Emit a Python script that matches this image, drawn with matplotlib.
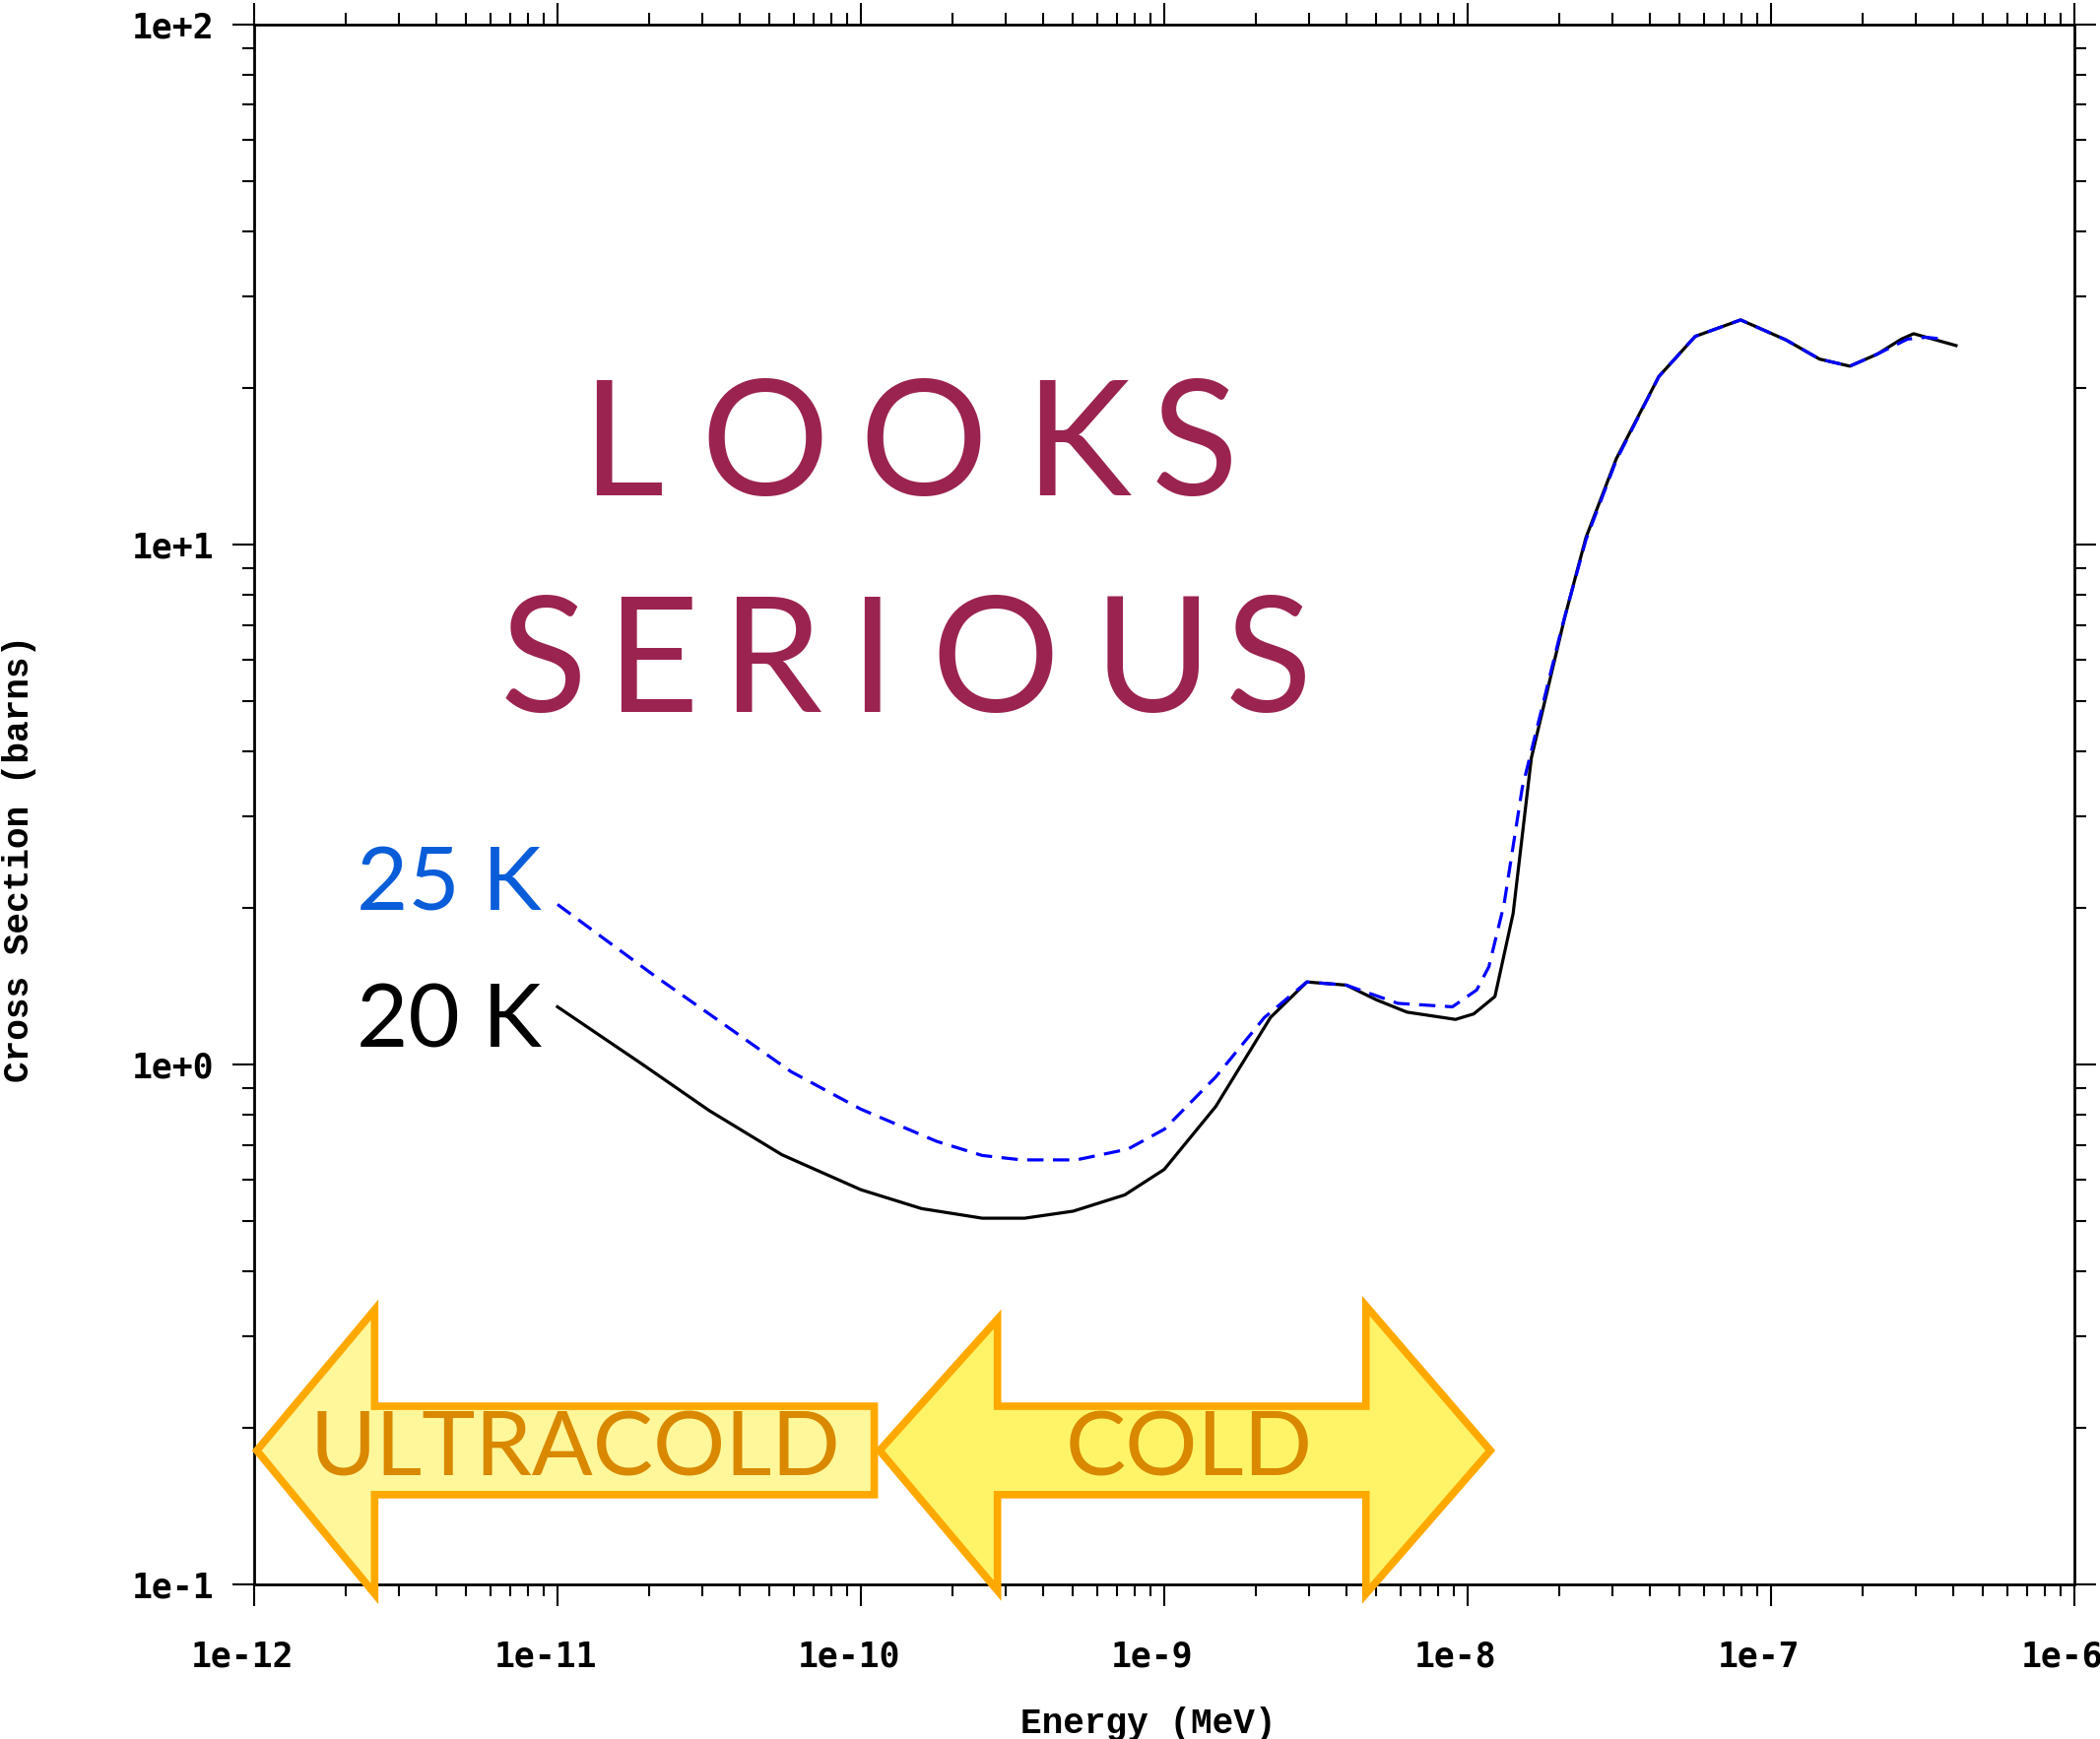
import matplotlib
matplotlib.use("Agg")
import matplotlib.pyplot as plt
import numpy as np
from matplotlib.patches import Polygon
from matplotlib.ticker import LogLocator, FuncFormatter, NullFormatter
from matplotlib.transforms import ScaledTranslation

# cross section data (log10 of energy in MeV, barns)
log_energy_20k = [-11.00, -10.72, -10.50, -10.26, -10.00, -9.80, -9.60, -9.46, -9.30,
                  -9.13, -9.00, -8.83, -8.65, -8.53, -8.40, -8.30, -8.20, -8.04, -7.98,
                  -7.91, -7.85, -7.79, -7.68, -7.61, -7.51, -7.37, -7.25, -7.10, -6.95,
                  -6.84, -6.74, -6.65, -6.57, -6.53, -6.39]
sigma_20k = [1.29, 1.00, 0.815, 0.670, 0.574, 0.528, 0.506, 0.506, 0.522,
             0.561, 0.628, 0.830, 1.23, 1.44, 1.42, 1.33, 1.26, 1.22, 1.25,
             1.35, 1.95, 3.88, 7.23, 10.3, 14.6, 21.0, 25.1, 27.0, 24.7,
             22.7, 22.0, 23.2, 24.8, 25.4, 24.1]

log_energy_25k = [-11.00, -10.85, -10.68, -10.50, -10.23, -10.00, -9.75, -9.60, -9.47,
                  -9.29, -9.12, -9.00, -8.83, -8.67, -8.53, -8.40, -8.23, -8.05, -7.97,
                  -7.93, -7.88, -7.82, -7.69, -7.61, -7.51, -7.37, -7.25, -7.10, -6.95,
                  -6.84, -6.74, -6.65, -6.55, -6.49, -6.43]
sigma_25k = [2.03, 1.75, 1.48, 1.25, 0.968, 0.820, 0.711, 0.668, 0.655,
             0.655, 0.687, 0.750, 0.946, 1.23, 1.44, 1.42, 1.31, 1.29, 1.39,
             1.54, 2.03, 3.40, 6.9, 10.2, 14.5, 21.0, 25.1, 27.0, 24.7,
             22.7, 22.0, 23.2, 24.8, 25.0, 24.8]

energy_20k = 10.0 ** np.array(log_energy_20k)
energy_25k = 10.0 ** np.array(log_energy_25k)

title_lines = ["LOOKS", "SERIOUS"]
series_labels = ["25 K", "20 K"]
band_labels = ["ULTRACOLD", "COLD"]

fig = plt.figure(figsize=(21.32, 17.66), dpi=100)
ax = fig.add_axes([0.1210, 0.0889, 0.8668, 0.8972])

ax.plot(energy_20k, sigma_20k, color="black", lw=2.3, zorder=3)
line25, = ax.plot(energy_25k, sigma_25k, color="#0000ff", lw=2.3, zorder=3)
line25.set_dashes((5.2, 3.0))

ax.set_xscale("log")
ax.set_yscale("log")
ax.set_xlim(1e-12, 1e-6)
ax.set_ylim(1e-1, 1e2)

fmt = FuncFormatter(lambda v, p: "1e%+d" % int(round(np.log10(v))))
for axis in (ax.xaxis, ax.yaxis):
    axis.set_major_locator(LogLocator(base=10, numticks=20))
    axis.set_minor_locator(LogLocator(base=10, subs=np.arange(2, 10), numticks=20))
    axis.set_major_formatter(fmt)
    axis.set_minor_formatter(NullFormatter())

ax.tick_params(which="both", direction="out", top=True, right=True, width=1.5)
ax.tick_params(which="major", length=16)
ax.tick_params(which="minor", length=8.5)
ax.tick_params(axis="x", which="major", pad=25)
ax.tick_params(axis="y", which="major", pad=13)
for sp in ax.spines.values():
    sp.set_linewidth(2)

tick_font = dict(family="DejaVu Sans Mono", weight="bold", size=25)
for lab in ax.get_xticklabels():
    lab.set_fontproperties(matplotlib.font_manager.FontProperties(**tick_font))
    lab.set_transform(lab.get_transform() + ScaledTranslation(-0.12, 0, fig.dpi_scale_trans))
for lab in ax.get_yticklabels():
    lab.set_fontproperties(matplotlib.font_manager.FontProperties(**tick_font))

ax.set_xlabel("Energy (MeV)", family="Liberation Mono", weight="bold", size=26)
ax.set_ylabel("Cross Section (barns)", family="Liberation Mono", weight="bold", size=26)
ax.xaxis.set_label_coords(0.491, -0.089)
ax.xaxis.label.set_va("center")
ax.yaxis.set_label_coords(-0.1293, 0.465)
ax.yaxis.label.set_va("center")

# big overlay text, spaced letter by letter
maroon = "#9b2350"
looks_x = [0.2024, 0.2804, 0.3679, 0.4525, 0.5166]
serious_x = [0.1590, 0.2185, 0.2840, 0.3392, 0.4073, 0.4937, 0.5570]
for word, xs, yb in [(title_lines[0], looks_x, 0.698), (title_lines[1], serious_x, 0.559)]:
    for ch, xc in zip(word, xs):
        ax.text(xc, yb, ch, transform=ax.transAxes, ha="center", va="baseline",
                family="Lato", size=117, color=maroon, zorder=6)

ax.text(0.158, 0.432, series_labels[0], transform=ax.transAxes, ha="right", va="baseline",
        family="Lato", size=65, color="#0a5dd9", zorder=6)
ax.text(0.158, 0.344, series_labels[1], transform=ax.transAxes, ha="right", va="baseline",
        family="Lato", size=65, color="black", zorder=6)

# arrows marking the energy ranges (axes fraction coords)
edge = "#ffa900"
ymid, st, sb = 0.0858, 0.1142, 0.0575
ultra = [(0.0015, ymid), (0.0662, 0.176), (0.0662, st), (0.3407, st),
         (0.3407, sb), (0.0662, sb), (0.0662, -0.006)]
cold = [(0.3436, ymid), (0.4084, 0.170), (0.4084, st), (0.6108, st), (0.6108, 0.1785),
        (0.6792, ymid), (0.6108, -0.006), (0.6108, sb), (0.4084, sb), (0.4084, -0.004)]
for pts, fc in [(ultra, "#fff799"), (cold, "#fff468")]:
    ax.add_patch(Polygon(pts, closed=True, transform=ax.transAxes, facecolor=fc,
                         edgecolor=edge, lw=5.5, joinstyle="miter", clip_on=False, zorder=5))
    rough = Polygon(pts, closed=True, transform=ax.transAxes, fill=False,
                    edgecolor=edge, lw=1.5, alpha=0.8, clip_on=False, zorder=5)
    rough.set_sketch_params(scale=1.2, length=90, randomness=20)
    ax.add_patch(rough)

ax.text(0.1765, ymid, band_labels[0], transform=ax.transAxes, ha="center", va="center",
        family="Lato", size=66, color="#d98800", zorder=6)
ax.text(0.5137, ymid, band_labels[1], transform=ax.transAxes, ha="center", va="center",
        family="Lato", size=66, color="#d98800", zorder=6)

fig.savefig("out.png", dpi=100)
